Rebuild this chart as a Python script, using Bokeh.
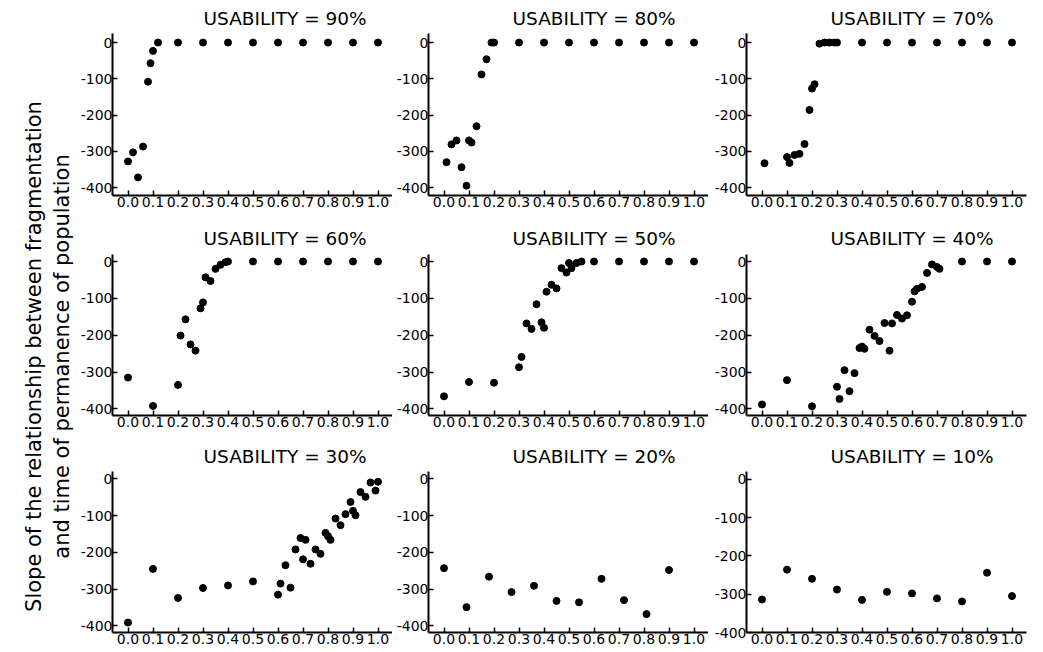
import math
from bokeh.plotting import figure
from bokeh.layouts import gridplot, row
from bokeh.models import Range1d, FixedTicker
from bokeh.core.properties import value
from bokeh.embed import file_html
from bokeh.resources import INLINE

# ---------------- data ----------------
titles = ["USABILITY = 90%", "USABILITY = 80%", "USABILITY = 70%",
          "USABILITY = 60%", "USABILITY = 50%", "USABILITY = 40%",
          "USABILITY = 30%", "USABILITY = 20%", "USABILITY = 10%"]

x_ticks = [0.0, 0.1, 0.2, 0.3, 0.4, 0.5, 0.6, 0.7, 0.8, 0.9, 1.0]
x_tick_labels = ["0.0", "0.1", "0.2", "0.3", "0.4", "0.5", "0.6", "0.7", "0.8", "0.9", "1.0"]
y_ticks = [-400, -300, -200, -100, 0]
y_tick_labels = ["-400", "-300", "-200", "-100", "0"]

u90_x = [0.0, 0.02, 0.04, 0.06, 0.08, 0.09, 0.10, 0.12, 0.2, 0.3, 0.4, 0.5, 0.6, 0.7, 0.8, 0.9, 1.0]
u90_y = [-328, -303, -372, -287, -108, -57, -23, 0, 0, 0, 0, 0, 0, 0, 0, 0, 0]

u80_x = [0.01, 0.03, 0.05, 0.07, 0.09, 0.10, 0.11, 0.13, 0.15, 0.17, 0.19, 0.20,
         0.3, 0.4, 0.5, 0.6, 0.7, 0.8, 0.9, 1.0]
u80_y = [-330, -281, -270, -344, -395, -270, -276, -231, -88, -46, 0, 0,
         0, 0, 0, 0, 0, 0, 0, 0]

u70_x = [0.01, 0.10, 0.11, 0.13, 0.15, 0.17, 0.19, 0.20, 0.21, 0.23, 0.25, 0.27, 0.29, 0.30,
         0.4, 0.5, 0.6, 0.7, 0.8, 0.9, 1.0]
u70_y = [-333, -316, -332, -310, -307, -280, -186, -127, -115, -3, 0, 0, 0, 0,
         0, 0, 0, 0, 0, 0, 0]

u60_x = [0.0, 0.1, 0.2, 0.21, 0.23, 0.25, 0.27, 0.29, 0.30, 0.31, 0.33, 0.35, 0.37, 0.39, 0.40,
         0.5, 0.6, 0.7, 0.8, 0.9, 1.0]
u60_y = [-315, -392, -335, -201, -157, -225, -242, -127, -111, -43, -53, -20, -9, -2, 0,
         0, 0, 0, 0, 0, 0]

u50_x = [0.0, 0.1, 0.2, 0.3, 0.31, 0.33, 0.35, 0.37, 0.39, 0.40, 0.41, 0.43, 0.45, 0.47, 0.49,
         0.50, 0.51, 0.53, 0.55, 0.6, 0.7, 0.8, 0.9, 1.0]
u50_y = [-366, -327, -329, -287, -259, -168, -183, -116, -165, -180, -82, -63, -73, -18, -30,
         -4, -18, -4, 0, 0, 0, 0, 0, 0]

u40_x = [0.0, 0.1, 0.2, 0.30, 0.31, 0.33, 0.35, 0.37, 0.39, 0.40, 0.41, 0.43, 0.45, 0.47, 0.49,
         0.51, 0.52, 0.54, 0.56, 0.58, 0.60, 0.61, 0.62, 0.64, 0.66, 0.68, 0.70, 0.71,
         0.8, 0.9, 1.0]
u40_y = [-388, -322, -393, -340, -373, -295, -352, -303, -235, -231, -237, -185, -202, -216, -167,
         -242, -168, -145, -155, -146, -109, -81, -74, -69, -31, -8, -15, -20,
         0, 0, 0]

u30_x = [0.0, 0.1, 0.2, 0.3, 0.4, 0.5, 0.6, 0.61, 0.63, 0.65, 0.67, 0.69, 0.70, 0.71, 0.73,
         0.75, 0.77, 0.79, 0.80, 0.81, 0.83, 0.85, 0.87, 0.89, 0.90, 0.91, 0.93, 0.95, 0.97,
         0.99, 1.0]
u30_y = [-391, -245, -324, -297, -290, -279, -315, -285, -235, -296, -192, -161, -219, -166, -231,
         -192, -204, -147, -156, -166, -108, -126, -96, -63, -87, -99, -36, -49, -10,
         -32, -8]

u20_x = [0.0, 0.09, 0.18, 0.27, 0.36, 0.45, 0.54, 0.63, 0.72, 0.81, 0.90]
u20_y = [-243, -349, -266, -308, -291, -332, -336, -272, -330, -368, -248]

u10_x = [0.0, 0.1, 0.2, 0.3, 0.4, 0.5, 0.6, 0.7, 0.8, 0.9, 1.0]
u10_y = [-314, -236, -260, -288, -315, -294, -298, -311, -319, -244, -305]

ylabel_lines = ["Slope of the relationship between fragmentation",
                "and time of permanence of population"]

series = [(u90_x, u90_y), (u80_x, u80_y), (u70_x, u70_y),
          (u60_x, u60_y), (u50_x, u50_y), (u40_x, u40_y),
          (u30_x, u30_y), (u20_x, u20_y), (u10_x, u10_y)]

y_limits = [(-422, 25), (-422, 25), (-422, 25),
            (-418, 19), (-418, 19), (-418, 19),
            (-418, 20), (-418, 20), (-400, 20)]

# ---------------- layout ----------------
FONT = "DejaVu Sans"
LABEL_W = 76
border_left = [36, 36, 38]
border_right = [0, 0, 1]
border_top = [33, 39, 36]
border_bottom = [20, 20, 19]
frame_h = [162, 161, 161]
title_offset = [91, 84, 84]
title_standoff = [9, 12, 9]


def make_panel(i):
    r, c = divmod(i, 3)
    xs, ys = series[i]
    p = figure(frame_width=280, frame_height=frame_h[r],
               x_range=Range1d(-0.062, 1.058), y_range=Range1d(*y_limits[i]),
               output_backend="svg", toolbar_location=None,
               min_border_left=border_left[c], min_border_right=border_right[c],
               min_border_top=border_top[r], min_border_bottom=border_bottom[r])
    p.title.text = titles[i]
    p.title.align = "left"
    p.title.offset = title_offset[c]
    p.title.text_font = FONT
    p.title.text_font_size = "18.5px"
    p.title.text_font_style = "normal"
    p.title.text_color = "black"
    p.title.standoff = title_standoff[r]

    p.xaxis.ticker = FixedTicker(ticks=x_ticks)
    p.xaxis.major_label_overrides = dict(zip(x_ticks, x_tick_labels))
    p.yaxis.ticker = FixedTicker(ticks=y_ticks)
    p.yaxis.major_label_overrides = dict(zip(y_ticks, y_tick_labels))

    for ax in (p.xaxis[0], p.yaxis[0]):
        ax.axis_line_color = "black"
        ax.axis_line_width = 2
        ax.major_tick_in = 5
        ax.major_tick_out = 0
        ax.minor_tick_in = 0
        ax.minor_tick_out = 0
        ax.major_tick_line_color = "black"
        ax.major_tick_line_width = 1.5
        ax.major_label_text_font = FONT
        ax.major_label_text_font_size = "14px"
        ax.major_label_text_color = "black"
    p.xaxis.major_label_standoff = 1
    p.yaxis.major_label_standoff = 0

    p.grid.visible = False
    p.outline_line_color = None
    p.background_fill_color = "white"
    p.border_fill_color = "white"

    p.scatter(xs, ys, size=7, color="black", line_color="black")
    return p


panels = [make_panel(i) for i in range(9)]

total_h = sum(border_top) + sum(frame_h) + sum(border_bottom)
lab = figure(width=LABEL_W, height=total_h, x_range=Range1d(0, LABEL_W), y_range=Range1d(0, total_h),
             x_axis_location=None, y_axis_location=None, min_border=0,
             output_backend="svg", toolbar_location=None)
lab.grid.visible = False
lab.outline_line_color = None
lab.text(x=[33, 61], y=[total_h - 356, total_h - 356], text=ylabel_lines,
         angle=math.pi / 2, text_align="center", text_baseline="middle",
         text_font=value(FONT), text_font_size="21px", text_color="black")

grid = gridplot([panels[0:3], panels[3:6], panels[6:9]], toolbar_location=None)
layout = row(lab, grid)

open("out.html", "w").write(file_html(layout, INLINE))
